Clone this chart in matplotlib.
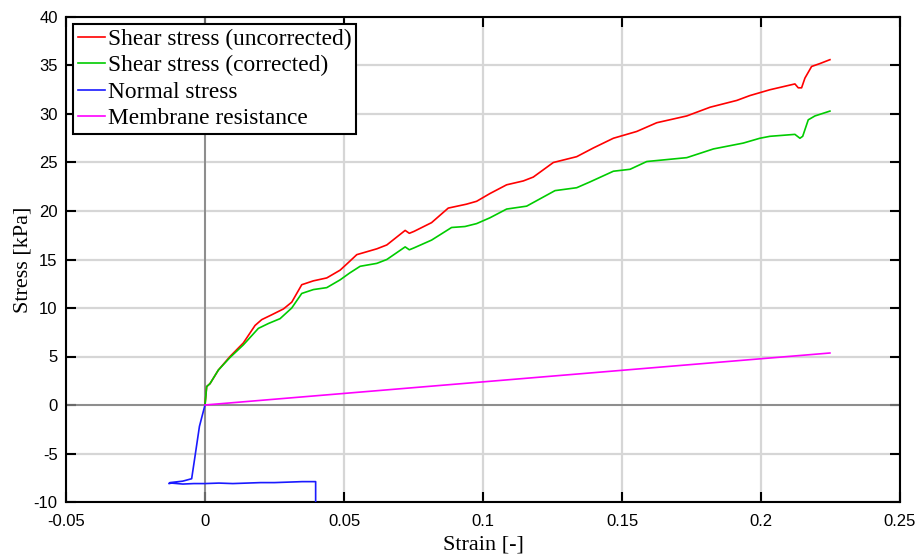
import matplotlib
matplotlib.use("Agg")
import matplotlib.pyplot as plt

plt.rcParams['axes.unicode_minus'] = False

# Shear stress (uncorrected)
red_x = [0.0, 0.0006, 0.0018, 0.0048, 0.009, 0.0138, 0.018, 0.0204, 0.024, 0.0282, 0.0312,
         0.0348, 0.039, 0.0438, 0.0486, 0.052, 0.0546, 0.0618, 0.0654, 0.072, 0.0735, 0.0752,
         0.0815, 0.0875, 0.094, 0.0977, 0.1025, 0.1085, 0.1145, 0.1181, 0.1253, 0.1337,
         0.1397, 0.1469, 0.1529, 0.1553, 0.1625, 0.1733, 0.1817, 0.1913, 0.196, 0.2032,
         0.2122, 0.2134, 0.2146, 0.2158, 0.2182, 0.2212, 0.2248]
red_y = [0.0, 1.9, 2.2, 3.6, 5.0, 6.4, 8.2, 8.8, 9.3, 9.9, 10.6,
         12.4, 12.8, 13.1, 13.9, 14.8, 15.5, 16.1, 16.5, 18.0, 17.7, 17.9,
         18.8, 20.3, 20.7, 21.0, 21.8, 22.7, 23.1, 23.5, 25.0, 25.6,
         26.5, 27.5, 28.0, 28.2, 29.1, 29.8, 30.7, 31.4, 31.9, 32.5,
         33.1, 32.7, 32.7, 33.7, 34.9, 35.2, 35.6]

# Shear stress (corrected)
green_x = [0.0, 0.0006, 0.0018, 0.0048, 0.009, 0.0138, 0.0192, 0.0228, 0.027, 0.0312,
           0.0348, 0.039, 0.0438, 0.0486, 0.052, 0.0558, 0.0618, 0.0654, 0.072, 0.0735,
           0.0752, 0.0815, 0.0887, 0.0935, 0.0977, 0.1025, 0.1085, 0.1157, 0.1259,
           0.1337, 0.1385, 0.1469, 0.1529, 0.1589, 0.1733, 0.1829, 0.1936, 0.1996,
           0.2032, 0.2122, 0.214, 0.215, 0.217, 0.2194, 0.2248]
green_y = [0.0, 1.9, 2.2, 3.6, 4.9, 6.2, 7.9, 8.4, 8.9, 10.0,
           11.5, 11.9, 12.1, 12.9, 13.6, 14.3, 14.6, 15.0, 16.3, 16.0,
           16.2, 17.0, 18.3, 18.4, 18.7, 19.3, 20.2, 20.5, 22.1,
           22.4, 23.0, 24.1, 24.3, 25.1, 25.5, 26.4, 27.0, 27.5,
           27.7, 27.9, 27.5, 27.7, 29.4, 29.8, 30.3]

# Normal stress
blue_x = [0.0, -0.002, -0.0036, -0.0048, -0.008, -0.0126, -0.013, -0.012, -0.008, -0.004,
          0.0, 0.005, 0.01, 0.015, 0.02, 0.025, 0.03, 0.035, 0.0398, 0.0398]
blue_y = [0.0, -2.2, -5.3, -7.6, -7.85, -8.0, -8.1, -8.05, -8.15, -8.1,
          -8.1, -8.05, -8.1, -8.05, -8.0, -8.0, -7.95, -7.9, -7.9, -11.0]

# Membrane resistance
mag_x = [0.0, 0.2248]
mag_y = [0.0, 5.36]

xticks = [-0.05, 0, 0.05, 0.1, 0.15, 0.2, 0.25]
xticklabels = ["-0.05", "0", "0.05", "0.1", "0.15", "0.2", "0.25"]
yticks = [-10, -5, 0, 5, 10, 15, 20, 25, 30, 35, 40]

fig = plt.figure(figsize=(9.21, 5.59), dpi=100)
ax = fig.add_axes([66/921, 1 - 502/559, 834/921, 485/559])

ax.axhline(0, color="#808080", lw=1.2, zorder=1)
ax.axvline(0, color="#808080", lw=1.2, zorder=1)

ax.plot(red_x, red_y, color="#ff0000", lw=1.2, label="Shear stress (uncorrected)", zorder=3)
ax.plot(green_x, green_y, color="#00cc00", lw=1.2, label="Shear stress (corrected)", zorder=3)
ax.plot(blue_x, blue_y, color="#1a1aff", lw=1.2, label="Normal stress", zorder=3)
ax.plot(mag_x, mag_y, color="#ff00ff", lw=1.2, label="Membrane resistance", zorder=3)

ax.set_xlim(-0.05, 0.25)
ax.set_ylim(-10, 40)
ax.set_xticks(xticks)
ax.set_xticklabels(xticklabels)
ax.set_yticks(yticks)
ax.grid(True, color="#d6d6d6", lw=1.6, zorder=0)
ax.set_axisbelow(True)

for lab in ax.get_xticklabels() + ax.get_yticklabels():
    lab.set_family("Liberation Sans")
    lab.set_fontsize(12)
ax.tick_params(direction="in", length=7, width=1.5, top=True, right=True)
ax.tick_params(axis="x", pad=9)
ax.tick_params(axis="y", pad=6)
for s in ax.spines.values():
    s.set_linewidth(1.5)
    s.set_color("black")

ax.set_xlabel("Strain [-]", family="Liberation Serif", fontsize=16, labelpad=4)
ax.set_ylabel("Stress [kPa]", family="Liberation Serif", fontsize=16)
ax.yaxis.set_label_coords((32 - 66) / 834, 0.5)

leg = ax.legend(loc="upper left", prop={"family": "Liberation Serif", "size": 16.8},
                handlelength=1.16, handletextpad=0.13, borderpad=0.2, labelspacing=0.22,
                borderaxespad=0.3, fancybox=False, framealpha=1, edgecolor="black")
leg.get_frame().set_linewidth(1.5)

fig.savefig("out.png", dpi=100)
